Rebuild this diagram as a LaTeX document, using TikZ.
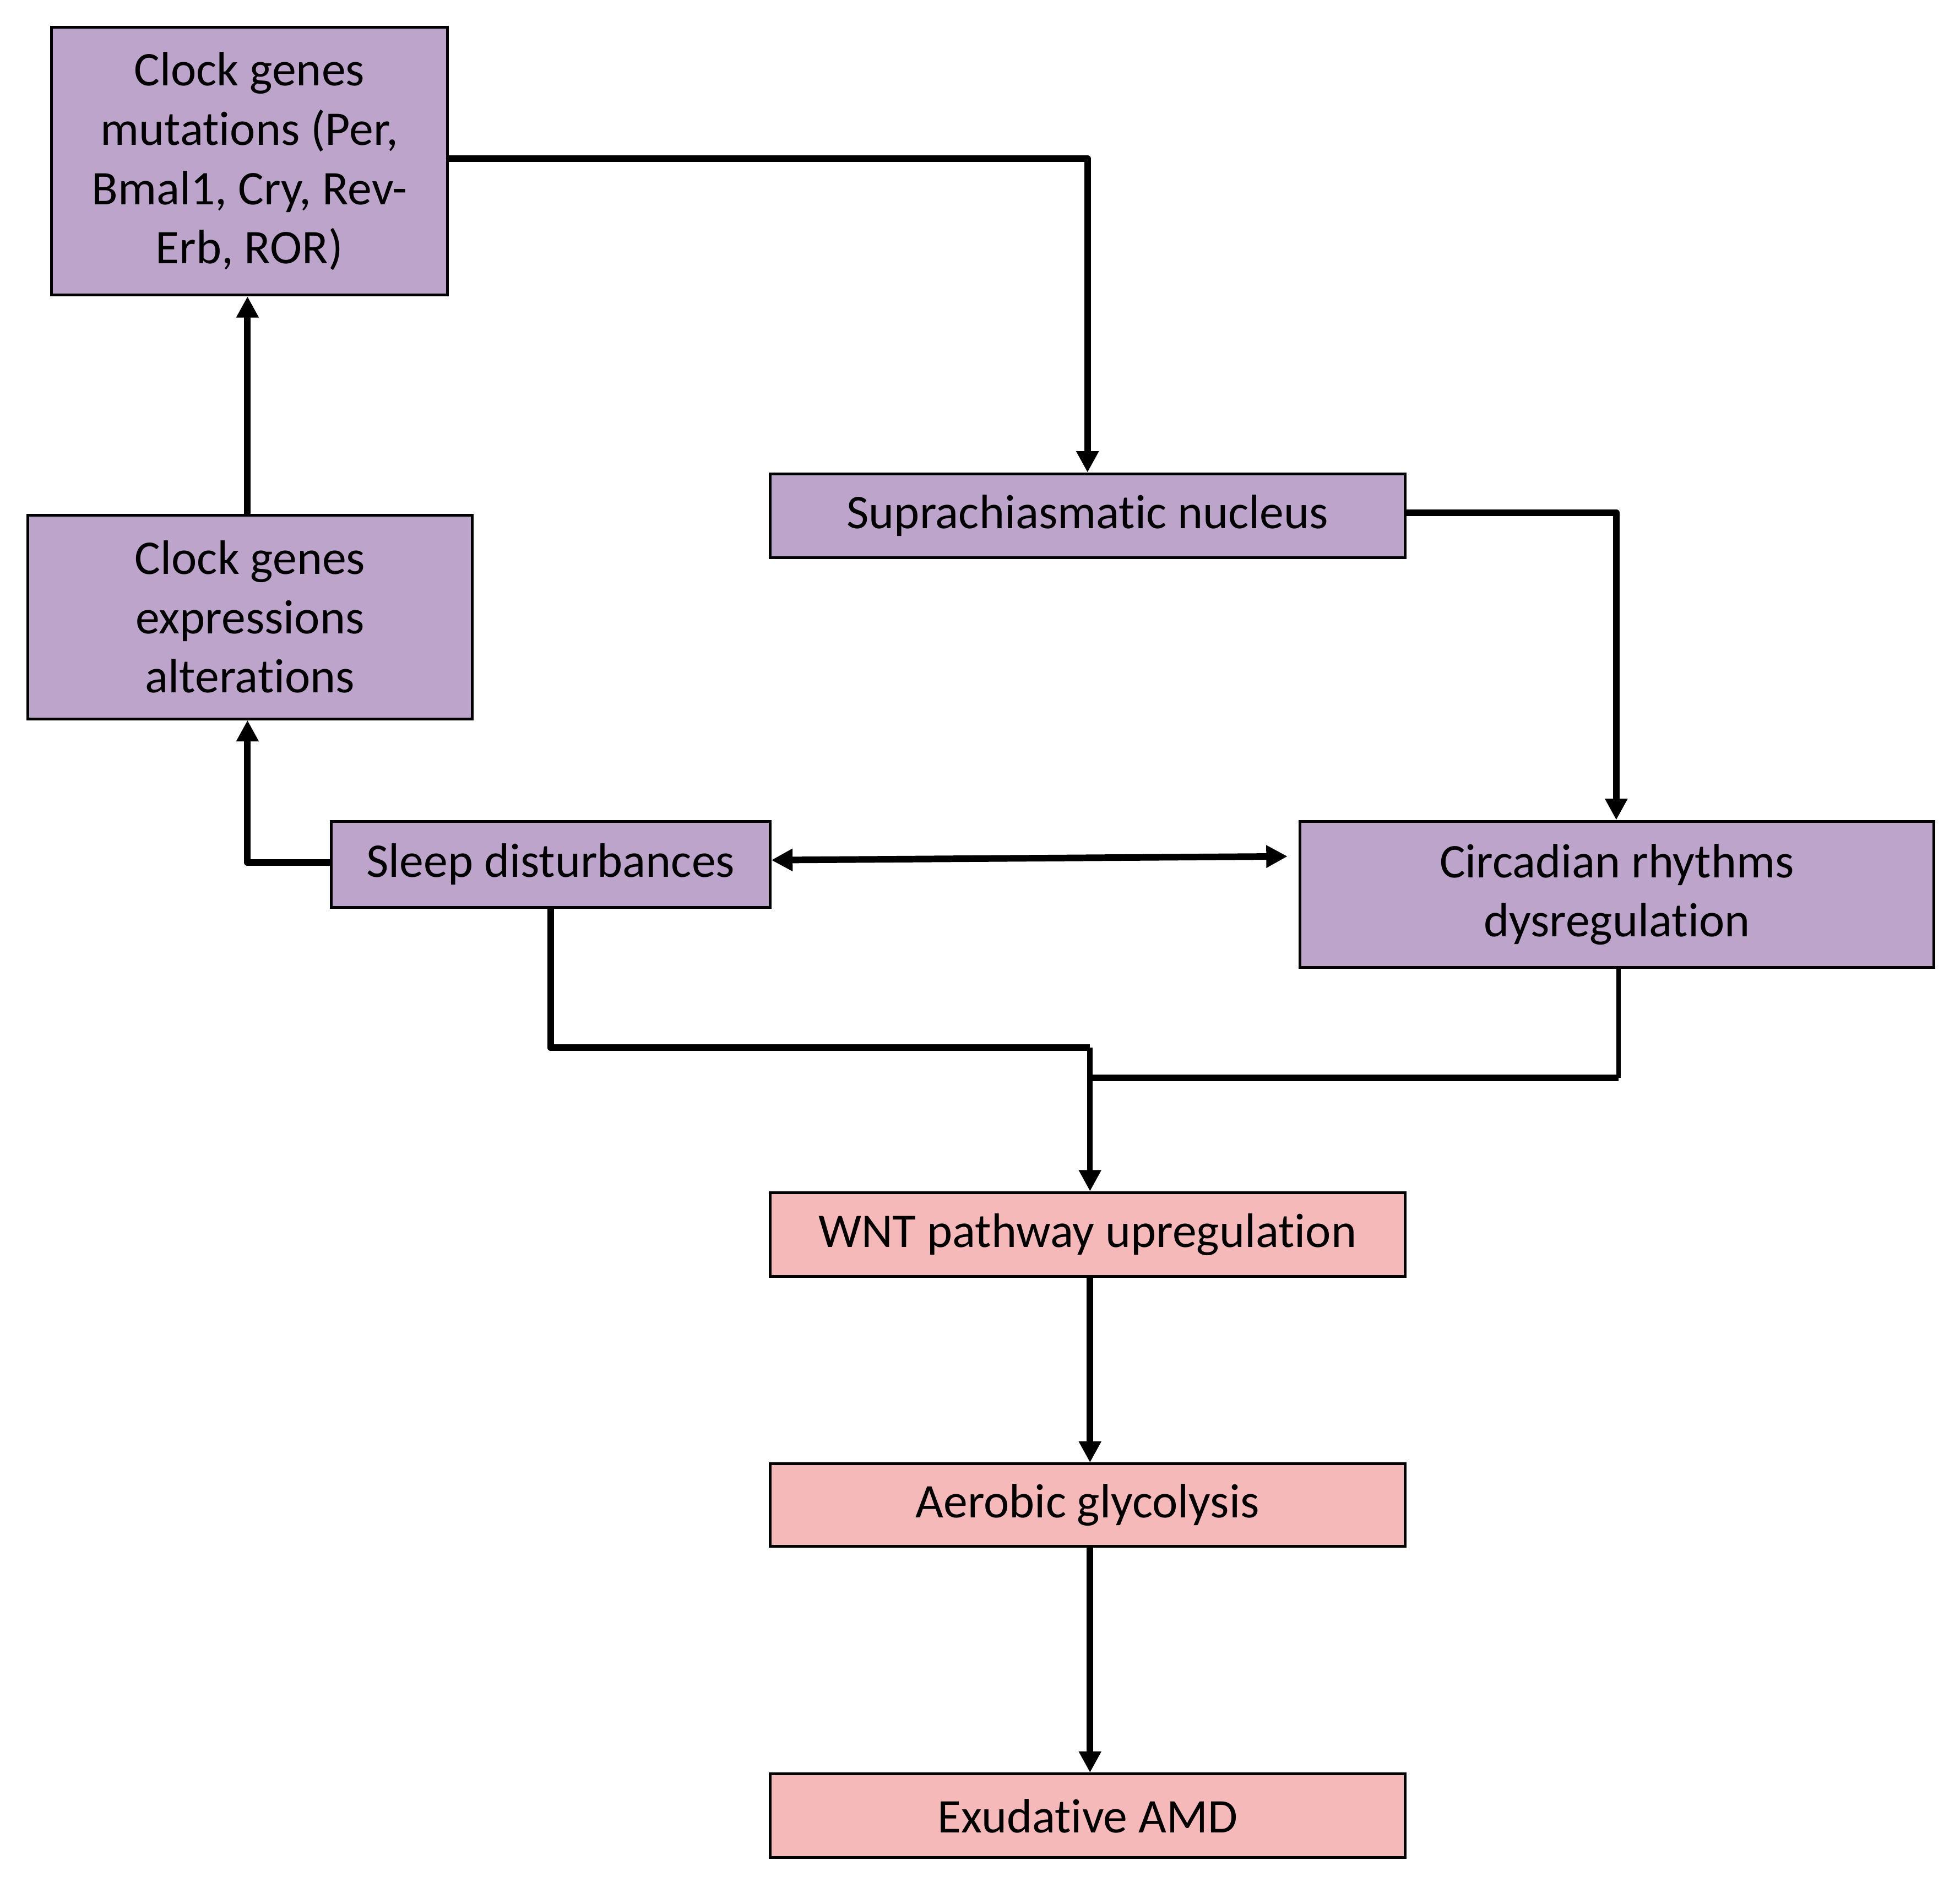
\documentclass[tikz,border=0pt]{standalone}
\usepackage{fontspec}
\setmainfont{Carlito}[Ligatures={NoCommon,NoRequired,NoContextual}]
\usetikzlibrary{arrows.meta}
\definecolor{boxpurple}{HTML}{BDA4CA}
\definecolor{boxpink}{HTML}{F5B9B9}

\begin{document}
\begin{tikzpicture}[x=0.02cm, y=-0.02cm,
    box/.style={draw, line width=1.25pt, inner sep=0pt, align=center, font=\fontsize{22}{27}\selectfont},
    arr/.style={line width=3pt, line join=round, -{Triangle[width=0.34cm,length=0.34cm]}},
    link/.style={line width=3pt, line join=round}]
    \useasboundingbox (0,0) rectangle (1568,1505);

    % clock boxes (purple)
    \node[box, fill=boxpurple, minimum width=6.34cm, minimum height=4.28cm] (mut) at (199.5,129)
        {Clock genes\\mutations (Per,\\Bmal1, Cry, Rev-\\Erb, ROR)};
    \node[box, fill=boxpurple, minimum width=7.12cm, minimum height=3.26cm] (expr) at (200,493.5)
        {Clock genes\\expressions\\alterations};
    \node[box, fill=boxpurple, minimum width=7.02cm, minimum height=1.38cm] (sleep) at (440.5,691.5)
        {Sleep disturbances};
    \node[box, fill=boxpurple, minimum width=10.16cm, minimum height=1.34cm] (scn) at (870,412.5)
        {Suprachiasmatic nucleus};
    \node[box, fill=boxpurple, minimum width=10.14cm, minimum height=2.34cm] (circ) at (1293.5,715.5)
        {Circadian rhythms\\dysregulation};

    % outcome boxes (pink)
    \node[box, fill=boxpink, minimum width=10.16cm, minimum height=1.34cm] (wnt) at (870,987.5)
        {WNT pathway upregulation};
    \node[box, fill=boxpink, minimum width=10.16cm, minimum height=1.32cm] (glyc) at (870,1204)
        {Aerobic glycolysis};
    \node[box, fill=boxpink, minimum width=10.16cm, minimum height=1.34cm] (amd) at (870,1452.5)
        {Exudative AMD};

    \coordinate (merge) at (872,838);
    \coordinate (merge2) at (872,862);

    % connectors
    \draw[arr] (mut.east |- 0,127) -| (scn.north);
    \draw[arr] (scn.east |- 0,410) -| (circ.north -| 1293,0);
    \draw[arr] (sleep.west |- 0,690) -| (expr.south -| 198,0);
    \draw[arr] (expr.north -| 198,0) -- (mut.south -| 198,0);
    \draw[line width=3pt, {Triangle[width=0.34cm,length=0.34cm]}-{Triangle[width=0.34cm,length=0.34cm]}]
        (sleep.east |- 0,688) -- (1030,685);
    \draw[link] (sleep.south) |- (merge);
    \draw[link, line width=2pt] (circ.south -| 1295,0) -- (1295,862);
    \draw[link] (1295,862) -- (merge2);
    \draw[arr, line width=2.4pt] (merge) -- (wnt.north -| merge);
    \draw[arr] (wnt.south -| merge) -- (glyc.north -| merge);
    \draw[arr] (glyc.south -| merge) -- (amd.north -| merge);
\end{tikzpicture}
\end{document}
